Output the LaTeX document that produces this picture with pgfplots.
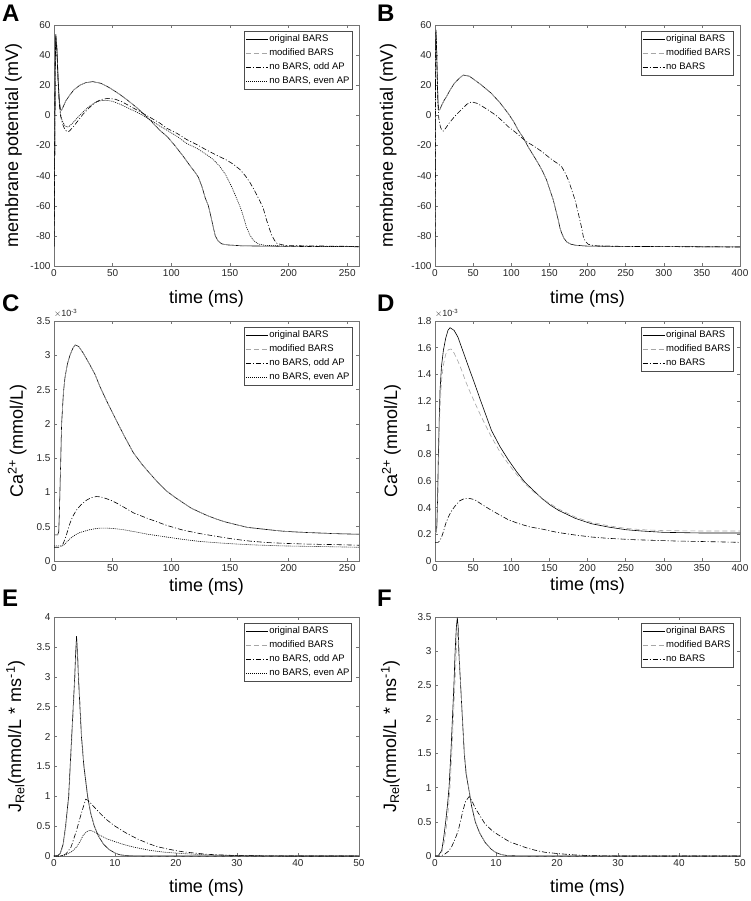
\documentclass[border=0pt]{standalone}
\usepackage{fontspec}
\setmainfont{Liberation Sans}
\usepackage{pgfplots}
\pgfplotsset{compat=1.18}

\pgfplotsset{
  mat/.style={
    scale only axis, width=305pt,
    tick align=inside, major tick length=3pt,
    axis line style={draw=black!55, line width=0.5pt},
    tick style={draw=black!55, line width=0.5pt},
    tick label style={font=\fontsize{10}{12}\selectfont, text=black!85},
    label style={font=\fontsize{18}{21}\selectfont, inner sep=0pt},
    /pgf/number format/assume math mode=true,
    clip mode=individual,
    xlabel={time (ms)},
    legend cell align=left,
    legend image code/.code={\draw[##1, line width=0.6pt] (0pt,0pt) -- (22pt,0pt);},
    legend style={at={(1,1)}, anchor=north east, xshift=-7pt, yshift=-6pt,
      draw=black!70, line width=0.5pt, font=\fontsize{9.5}{11}\selectfont,
      inner sep=1pt, row sep=0pt,
      nodes={inner xsep=1.2pt, inner ysep=2pt, text height=7.5pt, text depth=2.5pt}},
  },
  orig/.style={black, solid, line width=0.6pt},
  modi/.style={black!35, dash pattern=on 5pt off 3pt, line width=0.6pt},
  odd/.style={black, dash pattern=on 5pt off 2pt on 1pt off 2pt, line width=0.6pt},
  even/.style={black, dash pattern=on 1pt off 1pt, line width=0.6pt},
}

% ---------- Panel A ----------
\pgfplotstableread{
t V
0 -87
0.5 -40
1 30
1.5 54
2.5 45
3.5 25
4.5 10
5.5 4
6.5 3.5
8 6
10 9.5
13 13
17 17
22 20
27 21.7
33 22.4
40 21.3
47 18.5
55 14.5
62 10.5
70 5.5
76 1.3
83 -4
90 -9.7
97 -14.5
103 -20
110 -27
116 -33.5
120 -37.5
123 -41
126 -47
129 -55
131.6 -60
134 -68
136 -75
137.5 -80
140 -83.5
143 -85.3
148 -86
160 -86.6
180 -86.8
200 -87
260 -87.2
}\Aorig
\pgfplotstableread{
t V
0 -87
0.5 -40
1 30
1.5 53
2.5 42
3.5 22
4.5 8
5.5 0
7 -5
9 -9
11 -10.8
13 -10.5
16 -8
20 -4
25 1
30 5
35 8.5
40 10.5
46 11.3
52 10.8
58 9
65 6
72 3
80 -0.5
90 -5
96 -8.5
105 -12
113 -16
122 -19.5
130 -23
140 -27
147 -29.6
153 -32.5
158.6 -36
163 -40
167 -44.5
171 -50
175.6 -57
178.5 -62
181 -69
183.5 -75
185.6 -79.5
188 -83
190 -85
195 -86
200 -86.5
260 -87
}\Aodd
\pgfplotstableread{
t V
0 -87
0.5 -40
1 30
1.5 52
2.5 42
3.5 22
4.5 9
5.5 1
7 -3.5
9 -6.5
11 -7.8
13 -7.3
16 -5
20 -1.5
25 2.5
30 6
35 8.5
40 9.8
45 10
50 9.3
56 7.5
62 5.3
70 2.3
76 0
83 -3.5
90 -7
96 -9.7
105 -14
113 -18.6
122 -22
130 -26
136 -29.5
141.5 -34
146 -39
150 -45
154 -52
158.6 -60.6
161 -66
164 -74
167 -79.5
170 -83
174 -85.3
180 -86.3
200 -86.8
260 -87.2
}\Aeven

% ---------- Panel B ----------
\pgfplotstableread{
t V
0 -87.5
0.4 -30
0.8 40
1.2 57
2 48
3 25
4 8
5 3.5
6.5 4
9 7
12 10
15 12.4
20 17
25 21
30.6 24
37 26.8
45 26
52 23.5
60 20.5
74 14.6
85 8.5
96 1.3
103 -4
109 -9.7
116 -15
122 -20.8
129 -26.5
135.5 -32
141 -37
146.4 -43
151 -50
155 -56
158.5 -63
161.7 -69.5
164 -75
166 -78
169 -81.5
172.7 -84
178 -85.5
184 -86.2
200 -86.8
250 -87
400 -87.3
}\Borig
\pgfplotstableread{
t V
0 -87.5
0.4 -30
0.8 40
1.2 56
2 45
3 22
4 6
5 -2
7 -7.5
9 -10
11 -10.4
14 -8.5
18 -5.5
22 -3
28 0.5
35 4
42 7.5
48 9
55 8
62 6
70 3.5
80 0
90 -4.5
96 -7.5
105 -11
113 -14.5
120 -17.5
130 -20.5
140 -24
148.6 -27.5
155 -30
161 -32
166 -34
170 -37.5
175 -43
179 -49
183.6 -56
187 -63
190 -69.5
192.5 -75
194.5 -80.5
197 -83.5
201 -85.6
207 -86.3
214 -86.7
250 -87
400 -87.4
}\Bno

% ---------- Panel C ----------
\pgfplotstableread{
t c
0 0.38
3 0.38
4 0.42
4.5 0.65
5.5 1.3
6.5 2.0
8 2.45
9.4 2.68
11.5 2.88
13.6 3.0
16 3.1
18 3.15
21 3.13
25 3.03
30 2.88
35 2.72
39 2.55
45 2.33
53.4 2.04
60 1.82
67.6 1.58
75 1.41
82 1.27
90 1.12
96 1.02
103 0.93
110 0.85
117 0.77
124.5 0.71
131 0.66
138.7 0.61
146 0.57
153 0.54
165 0.49
181 0.46
195 0.435
210 0.42
238 0.40
260 0.39
}\Corig
\pgfplotstableread{
t c
0 0.20
5 0.20
7 0.23
8 0.26
10 0.35
12 0.46
13.6 0.55
16 0.65
19 0.74
23 0.82
28 0.89
32 0.925
36 0.94
40 0.935
48 0.89
55 0.83
62 0.76
68 0.70
80 0.62
96 0.52
110 0.45
124.5 0.40
140 0.355
153 0.32
167 0.29
181 0.27
200 0.255
220 0.245
238 0.24
260 0.23
}\Codd
\pgfplotstableread{
t c
0 0.22
7 0.22
9 0.24
11 0.28
14 0.33
18 0.38
22 0.415
25 0.43
30 0.455
35 0.47
39 0.48
45 0.48
50 0.475
58 0.46
68 0.43
80 0.39
96 0.35
110 0.315
124.5 0.285
140 0.265
153 0.25
170 0.235
195 0.22
230 0.21
260 0.20
}\Ceven

% ---------- Panel D ----------
\pgfplotstableread{
t c
0 0.21
2 0.22
2.5 0.28
3.5 0.5
4.4 0.78
5.5 1.05
6.6 1.28
8.5 1.46
11 1.58
14 1.67
17 1.73
19.7 1.75
25 1.73
30 1.68
35 1.6
40 1.52
45 1.44
52 1.33
60 1.2
67 1.09
74 0.98
85 0.86
96 0.76
107 0.67
118 0.59
129 0.53
140 0.47
151 0.42
162 0.38
173 0.35
184 0.32
205 0.28
227 0.255
250 0.235
271 0.225
300 0.215
350 0.21
400 0.21
}\Dorig
\pgfplotstableread{
t c
0 0.21
2 0.22
3 0.3
4.4 0.65
5.5 0.95
6.6 1.15
8.5 1.35
11 1.47
14 1.55
17.5 1.585
21 1.59
25 1.56
30 1.5
35 1.43
40 1.35
45 1.28
52 1.19
60 1.09
67 1.01
74 0.93
85 0.82
96 0.73
107 0.65
118 0.58
129 0.52
140 0.47
151 0.43
162 0.39
173 0.36
184 0.33
205 0.29
227 0.265
250 0.245
271 0.235
300 0.228
350 0.225
400 0.225
}\Dmod
\pgfplotstableread{
t c
0 0.14
4 0.14
6 0.15
8.7 0.18
11 0.22
14 0.28
17.5 0.33
21 0.37
26 0.41
32 0.45
39 0.47
45 0.47
52 0.46
60 0.43
74 0.38
85 0.345
96 0.31
110 0.28
125 0.255
140 0.24
160 0.215
183.6 0.195
205 0.18
227 0.17
260 0.16
315 0.15
360 0.145
400 0.14
}\Dno

% ---------- Panel E ----------
\pgfplotstableread{
t j
0 0
0.5 0
1 0.04
1.5 0.2
1.9 0.5
2.2 0.8
2.4 1.0
2.65 1.5
2.9 2.0
3.15 2.5
3.4 3.0
3.55 3.4
3.7 3.68
3.85 3.4
4.0 3.0
4.25 2.5
4.5 2.0
4.9 1.5
5.5 1.0
6.0 0.72
6.6 0.5
7.3 0.33
8.1 0.2
9 0.11
10 0.05
10.8 0.02
12 0.005
15 0
50 0
}\Eorig
\pgfplotstableread{
t j
0 0
0.5 0
1 0.03
1.5 0.17
1.9 0.45
2.2 0.72
2.45 1.0
2.7 1.5
2.95 2.0
3.2 2.5
3.45 3.0
3.62 3.4
3.75 3.6
3.9 3.35
4.05 3.0
4.3 2.5
4.55 2.0
4.95 1.5
5.55 1.0
6.05 0.72
6.65 0.5
7.35 0.33
8.15 0.2
9 0.11
10 0.05
11 0.02
12 0.005
15 0
50 0
}\Emod
\pgfplotstableread{
t j
0 0
0.8 0
1.5 0.01
2 0.04
2.8 0.15
3.7 0.43
4.3 0.65
4.8 0.82
5.2 0.95
5.6 0.93
6.4 0.84
7.5 0.72
8.6 0.61
10 0.5
11.9 0.38
13.8 0.28
15.7 0.2
17 0.155
18.5 0.12
20 0.09
21.2 0.07
23 0.05
25 0.03
26.7 0.02
30 0.008
35 0.002
40 0
50 0
}\Eodd
\pgfplotstableread{
t j
0 0
1 0
2 0.02
3 0.08
3.7 0.15
4.3 0.25
4.8 0.35
5.4 0.41
5.9 0.43
6.5 0.41
7.5 0.35
8.6 0.29
10.3 0.23
11.5 0.19
13 0.15
14.5 0.12
15.7 0.095
18 0.065
21.2 0.04
25 0.02
30 0.008
35 0.002
40 0
50 0
}\Eeven

% ---------- Panel F ----------
\pgfplotstableread{
t j
0 0
0.5 0
1.1 0.08
1.4 0.25
1.75 0.5
2.05 0.75
2.3 1.0
2.6 1.5
2.85 2.0
3.1 2.5
3.3 3.0
3.5 3.35
3.66 3.49
3.8 3.35
3.9 3.0
4.2 2.5
4.5 2.0
4.8 1.5
5.1 1.2
5.5 1.0
6.0 0.73
6.6 0.5
7.3 0.34
8.2 0.2
9.2 0.1
10 0.05
10.9 0.02
12 0.005
15 0
50 0
}\Forig
\pgfplotstableread{
t j
0 0
0.5 0
1.1 0.05
1.5 0.2
1.9 0.45
2.2 0.7
2.45 1.0
2.75 1.5
3.0 2.0
3.25 2.5
3.45 2.9
3.6 3.2
3.75 3.3
3.9 3.1
4.05 2.8
4.3 2.35
4.55 1.95
4.85 1.5
5.15 1.2
5.55 1.0
6.05 0.73
6.65 0.5
7.35 0.34
8.25 0.2
9.2 0.1
10 0.05
11 0.02
12 0.005
15 0
50 0
}\Fmod
\pgfplotstableread{
t j
0 0
0.8 0
1.5 0.02
2.2 0.07
2.7 0.13
3.3 0.25
3.8 0.37
4.2 0.52
4.6 0.67
5.0 0.8
5.6 0.87
6.1 0.8
6.6 0.7
7.3 0.6
8.2 0.47
9.5 0.36
10.9 0.28
12.2 0.21
13.7 0.16
15 0.12
16.4 0.085
18 0.055
20.2 0.035
23 0.015
25.7 0.005
30 0
50 0
}\Fno

\begin{document}
\begin{tikzpicture}
\path[use as bounding box] (0pt,0pt) rectangle (750pt,-901pt);

\tikzset{panel/.style={anchor=base west, inner sep=0pt, font=\fontsize{24}{24}\selectfont\bfseries}}
\node[panel] at (2pt,-22pt) {A};
\node[panel] at (377pt,-22pt) {B};
\node[panel] at (2pt,-311pt) {C};
\node[panel] at (377pt,-311pt) {D};
\node[panel] at (2pt,-606pt) {E};
\node[panel] at (377pt,-606pt) {F};

% A
\begin{axis}[mat, at={(54pt,-266pt)}, anchor=south west, height=241pt,
  xmin=0, xmax=260, ymin=-100, ymax=60,
  xtick={0,50,...,250}, ytick={-100,-80,...,60},
  ylabel={membrane potential (mV)},
  ylabel style={at={(axis description cs:-0.105,0.5)}, anchor=south},
  xlabel style={at={(axis description cs:0.5,-0.0996)}, anchor=north}]
\addplot[orig] table[x=t,y=V] {\Aorig};
\addplot[modi] table[x=t,y=V] {\Aorig};
\addplot[odd] table[x=t,y=V] {\Aodd};
\addplot[even] table[x=t,y=V] {\Aeven};
\legend{original BARS, modified BARS, {no BARS, odd AP}, {no BARS, even AP}}
\end{axis}

% B
\begin{axis}[mat, at={(435pt,-266pt)}, anchor=south west, height=241pt,
  xmin=0, xmax=400, ymin=-100, ymax=60,
  xtick={0,50,...,400}, ytick={-100,-80,...,60},
  ylabel={membrane potential (mV)},
  ylabel style={at={(axis description cs:-0.125,0.5)}, anchor=south},
  xlabel style={at={(axis description cs:0.5,-0.0996)}, anchor=north}]
\addplot[orig] table[x=t,y=V] {\Borig};
\addplot[modi] table[x=t,y=V] {\Borig};
\addplot[odd] table[x=t,y=V] {\Bno};
\legend{original BARS, modified BARS, no BARS}
\end{axis}

% C
\begin{axis}[mat, at={(54pt,-561pt)}, anchor=south west, height=240pt,
  xmin=0, xmax=260, ymin=0, ymax=3.5,
  xtick={0,50,...,250}, ytick={0,0.5,1,1.5,2,2.5,3,3.5},
  ylabel={Ca\textsuperscript{2+} (mmol/L)},
  ylabel style={at={(axis description cs:-0.089,0.5)}, anchor=south},
  xlabel style={at={(axis description cs:0.5,-0.071)}, anchor=north}]
\addplot[orig] table[x=t,y=c] {\Corig};
\addplot[modi] table[x=t,y=c] {\Corig};
\addplot[odd] table[x=t,y=c] {\Codd};
\addplot[even] table[x=t,y=c] {\Ceven};
\legend{original BARS, modified BARS, {no BARS, odd AP}, {no BARS, even AP}}
\node[anchor=south west, inner sep=0pt, font=\fontsize{9}{10}\selectfont, text=black!85] at (rel axis cs:0,1) [yshift=3pt] {$\times$10\textsuperscript{-3}};
\end{axis}

% D
\begin{axis}[mat, at={(435pt,-561pt)}, anchor=south west, height=240pt,
  xmin=0, xmax=400, ymin=0, ymax=1.8,
  xtick={0,50,...,400}, ytick={0,0.2,0.4,0.6,0.8,1,1.2,1.4,1.6,1.8},
  ylabel={Ca\textsuperscript{2+} (mmol/L)},
  ylabel style={at={(axis description cs:-0.111,0.5)}, anchor=south},
  xlabel style={at={(axis description cs:0.5,-0.067)}, anchor=north}]
\addplot[orig] table[x=t,y=c] {\Dorig};
\addplot[modi] table[x=t,y=c] {\Dmod};
\addplot[odd] table[x=t,y=c] {\Dno};
\legend{original BARS, modified BARS, no BARS}
\node[anchor=south west, inner sep=0pt, font=\fontsize{9}{10}\selectfont, text=black!85] at (rel axis cs:0,1) [yshift=3pt] {$\times$10\textsuperscript{-3}};
\end{axis}

% E
\begin{axis}[mat, at={(54pt,-856pt)}, anchor=south west, height=239pt,
  xmin=0, xmax=50, ymin=0, ymax=4,
  xtick={0,10,...,50}, ytick={0,0.5,1,1.5,2,2.5,3,3.5,4},
  ylabel={J\textsubscript{Rel}(mmol/L * ms\textsuperscript{-1})},
  ylabel style={at={(axis description cs:-0.095,0.5)}, anchor=south},
  xlabel style={at={(axis description cs:0.5,-0.096)}, anchor=north}]
\addplot[orig] table[x=t,y=j] {\Eorig};
\addplot[modi] table[x=t,y=j] {\Emod};
\addplot[odd] table[x=t,y=j] {\Eodd};
\addplot[even] table[x=t,y=j] {\Eeven};
\legend{original BARS, modified BARS, {no BARS, odd AP}, {no BARS, even AP}}
\end{axis}

% F
\begin{axis}[mat, at={(435pt,-856pt)}, anchor=south west, height=239pt,
  xmin=0, xmax=50, ymin=0, ymax=3.5,
  xtick={0,10,...,50}, ytick={0,0.5,1,1.5,2,2.5,3,3.5},
  ylabel={J\textsubscript{Rel}(mmol/L * ms\textsuperscript{-1})},
  ylabel style={at={(axis description cs:-0.115,0.5)}, anchor=south},
  xlabel style={at={(axis description cs:0.5,-0.096)}, anchor=north}]
\addplot[orig] table[x=t,y=j] {\Forig};
\addplot[modi] table[x=t,y=j] {\Fmod};
\addplot[odd] table[x=t,y=j] {\Fno};
\legend{original BARS, modified BARS, no BARS}
\end{axis}
\end{tikzpicture}
\end{document}
